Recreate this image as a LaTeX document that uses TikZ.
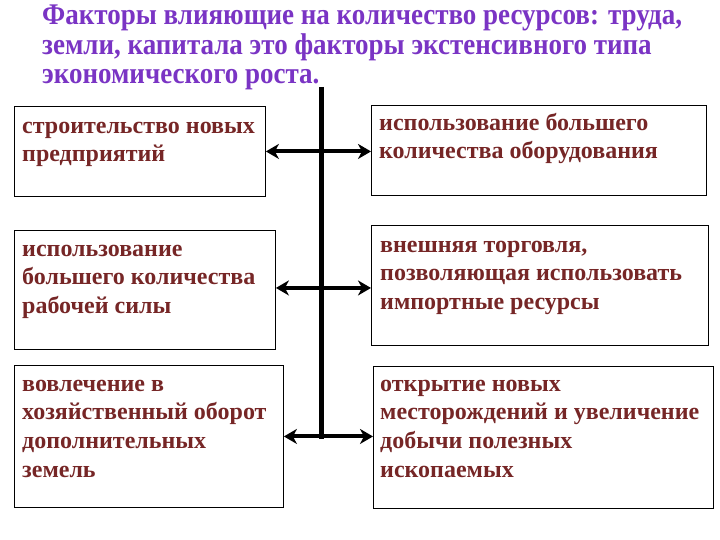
\documentclass[tikz,border=0pt]{standalone}
\usepackage{fontspec}
\setmainfont{Liberation Serif}
\newfontfamily\titlefont[FakeStretch=0.9]{Liberation Serif}
\usetikzlibrary{arrows.meta}
\definecolor{titlec}{RGB}{122,52,196}
\definecolor{txtc}{RGB}{118,38,38}
\begin{document}
\begin{tikzpicture}[x=1pt,y=-1pt,
  box/.style={draw=black, line width=0.9pt, inner sep=0pt, anchor=north west},
  lbl/.style={anchor=base west, align=left, inner sep=0pt, text=txtc,
    font=\bfseries\fontsize{24}{28.8}\selectfont},
  ttl/.style={anchor=base west, align=left, inner sep=0pt, text=titlec,
    font=\titlefont\bfseries\fontsize{30}{29.5}\selectfont},
  link/.style={line width=4pt, {Stealth[length=13pt,width=15pt,inset=4pt]}-{Stealth[length=13pt,width=15pt,inset=4pt]}},
  spine/.style={line width=5pt}]
\useasboundingbox (0,0) rectangle (720,540);
% texts are anchored at the baseline of their last line
\node[ttl] (title) at (42,84) {Факторы влияющие на количество ресурсов: труда,\\земли, капитала это факторы экстенсивного типа\\экономического роста.};
% boxes
\node[box, minimum width=251pt, minimum height=90pt] (b1) at (14,106) {};
\node[box, minimum width=335pt, minimum height=90pt] (b2) at (371,105) {};
\node[box, minimum width=261pt, minimum height=119pt] (b3) at (14,230) {};
\node[box, minimum width=337pt, minimum height=120pt] (b4) at (371,225) {};
\node[box, minimum width=269pt, minimum height=142pt] (b5) at (14,365) {};
\node[box, minimum width=340pt, minimum height=142pt] (b6) at (373,366) {};
% texts
\node[lbl] (t1) at (22,162) {строительство новых\\предприятий};
\node[lbl] (t2) at (379,159) {использование большего\\количества оборудования};
\node[lbl] (t3) at (22,313.6) {использование\\большего количества\\рабочей силы};
\node[lbl] (t4) at (380,309.6) {внешняя торговля,\\позволяющая использовать\\импортные ресурсы};
\node[lbl] (t5) at (22,477.4) {вовлечение в\\хозяйственный оборот\\дополнительных\\земель};
\node[lbl] (t6) at (380,477.4) {открытие новых\\месторождений и увеличение\\добычи полезных\\ископаемых};
% spine
\coordinate (top) at (321,87);
\coordinate (bot) at (321,439);
\draw[spine] (top) -- (bot);
% links
\draw[link] (b1.east) -- (b1.east -| b2.west);
\draw[link] ([yshift=2pt]b3.east) -- ([yshift=2pt]b3.east -| b4.west);
\draw[link] (b5.east) -- (b5.east -| b6.west);
\end{tikzpicture}
\end{document}
